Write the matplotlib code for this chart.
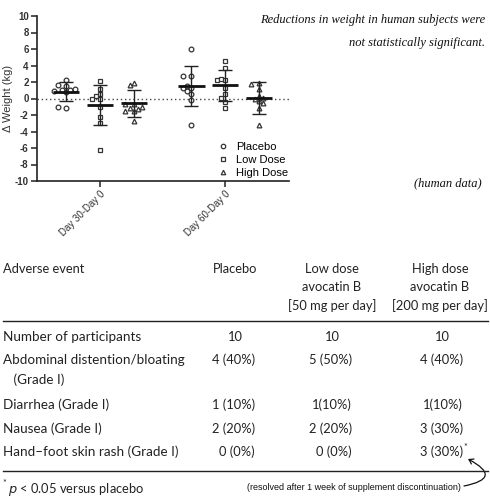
import numpy as np
import matplotlib
matplotlib.use('Agg')
from matplotlib import pyplot as plt
from matplotlib.lines import Line2D
from matplotlib.patches import FancyArrowPatch

plt.rcParams['axes.unicode_minus'] = False

# ---- scatter data (change in weight, kg) ----
periods = ['Day 30-Day 0', 'Day 60-Day 0']
groups = ['Placebo', 'Low Dose', 'High Dose']
markers = ['o', 's', '^']

placebo_30 = [2.3, 1.5, 1.6, 1.0, 1.0, 1.2, 0.9, 0.8, -1.1, -1.0]
low_30 = [2.1, 1.2, 0.5, 0.3, -0.1, 0.0, -1.0, -2.2, -3.0, -6.2]
high_30 = [1.9, 1.6, -0.7, -0.7, -1.2, -1.5, -1.5, -1.3, -2.7, -1.0]
placebo_60 = [6.0, 2.7, 2.7, 1.3, 1.3, 1.5, 0.9, 0.5, -0.2, -3.2]
low_60 = [4.6, 3.7, 2.2, 2.2, 2.4, 1.3, 0.5, 0.1, -0.4, -1.1]
high_60 = [1.9, 1.8, 1.1, 0.3, 0.0, 0.1, -0.3, -0.5, -1.2, -3.2]

# means and SD
means_30 = [0.8, -0.8, -0.6]
sds_30 = [1.15, 2.4, 1.6]
means_60 = [1.5, 1.6, 0.1]
sds_60 = [2.45, 1.85, 1.95]

# ---- table data ----
col_headers = ['Placebo', 'Low dose\navocatin B\n[50 mg per day]', 'High dose\navocatin B\n[200 mg per day]']
row_labels = ['Number of participants', 'Abdominal distention/bloating\n   (Grade I)',
              'Diarrhea (Grade I)', 'Nausea (Grade I)', 'Hand\u2013foot skin rash (Grade I)']
placebo_col = ['10', '4 (40%)', '1 (10%)', '2 (20%)', '0 (0%)']
low_col = ['10', '5 (50%)', '1(10%)', '2 (20%)', '0 (0%)']
high_col = ['10', '4 (40%)', '1(10%)', '3 (30%)', '3 (30%)']

W, H = 490, 500
fig = plt.figure(figsize=(W / 100, H / 100), dpi=100)


def fx(x):
    return x / W


def fy(y):
    return 1 - y / H


ax = fig.add_axes([fx(37), fy(181), fx(289) - fx(37), fy(16) - fy(181)])
ax.set_xlim(0.496, 2.51)
ax.set_ylim(-10, 10)

# pixel size in data units (for a simple beeswarm spread)
dx_px = (2.51 - 0.496) / 252
dy_px = 20 / 165


def swarm(xc, vals, diam=4.4, step=4.2):
    placed = []
    xs = []
    for v in vals:
        for k in [0, -1, 1, -2, 2, -3, 3, -4, 4]:
            x = xc + k * step * dx_px
            ok = True
            for (px, py) in placed:
                if ((x - px) / dx_px) ** 2 + ((v - py) / dy_px) ** 2 < diam ** 2:
                    ok = False
                    break
            if ok:
                break
        placed.append((x, v))
        xs.append(x)
    return xs


offsets = [-0.27, 0.0, 0.27]
data = [[placebo_30, low_30, high_30], [placebo_60, low_60, high_60]]
means = [means_30, means_60]
sds = [sds_30, sds_60]

ax.axhline(0, color='#444444', ls=(0, (1, 2)), lw=1.0, zorder=1)

for i in range(len(periods)):
    for j in range(len(groups)):
        xc = i + 1 + offsets[j]
        vals = data[i][j]
        xs = swarm(xc, vals)
        ax.plot(xs, vals, ls='none', marker=markers[j], ms=3.4, mfc='white',
                mec='#333333', mew=0.9, zorder=3)
        ax.errorbar(xc, means[i][j], yerr=sds[i][j], fmt='none', ecolor='#222222',
                    elinewidth=1.0, capsize=4.8, capthick=1.0, zorder=4)
        ax.hlines(means[i][j], xc - 0.105, xc + 0.105, color='#111111', lw=2.0, zorder=5)

for j in range(len(groups)):
    ax.plot([], [], ls='none', marker=markers[j], ms=3.2, mfc='white', mec='#333333',
            mew=0.9, label=groups[j])
leg = ax.legend(loc='lower left', bbox_to_anchor=(0.68, -0.03), frameon=False,
                prop={'family': 'Liberation Sans', 'size': 8}, handletextpad=0.6,
                labelspacing=0.3, borderpad=0.2, handlelength=1.2)

for s in ['top', 'right']:
    ax.spines[s].set_visible(False)
for s in ['left', 'bottom']:
    ax.spines[s].set_linewidth(1.2)
    ax.spines[s].set_color('#222222')

ax.set_yticks(np.arange(-10, 11, 2))
ax.set_xticks([1, 2])
ax.set_xticklabels(periods, rotation=45, ha='right', rotation_mode='anchor',
                   family='Liberation Sans', fontsize=7, color='#333333')
for t in ax.get_yticklabels():
    t.set_family('Liberation Sans')
    t.set_fontsize(7)
    t.set_fontweight('bold')
    t.set_color('#333333')
ax.tick_params(axis='both', length=4, width=1.1, color='#222222', pad=2)
ax.set_ylabel('\u0394 Weight (kg)', family='Liberation Sans', fontsize=8,
              color='#333333', labelpad=1)

# handwritten-style notes
note_kw = dict(family='Liberation Serif', style='italic', fontsize=9, color='#111111')
fig.text(fx(485), fy(20), 'Reductions in weight in human subjects were', ha='right', va='center', **note_kw)
fig.text(fx(485), fy(43), 'not statistically significant.', ha='right', va='center', **note_kw)
fig.text(fx(482), fy(183), '(human data)', ha='right', va='center', **note_kw)

# ---- table ----
tkw = dict(family='Lato', fontsize=9.3, color='#222222')
fig.text(fx(3), fy(269), 'Adverse event', ha='left', va='center', **tkw)
head_x = [235, 332, 440]
for x, h in zip(head_x, col_headers):
    for k, ln in enumerate(h.split('\n')):
        fig.text(fx(x), fy(269 + 18.3 * k), ln, ha='center', va='center', **tkw)

fig.add_artist(Line2D([fx(3), fx(488)], [fy(321), fy(321)], color='#222222', lw=1.0))
fig.add_artist(Line2D([fx(3), fx(488)], [fy(471), fy(471)], color='#222222', lw=1.0))

row_y = [337, 360, 405, 429, 452]
num_center = [235, 332, 442]
pct_right = [255, 352, 463]
cols = [placebo_col, low_col, high_col]
lab_kw = dict(tkw, fontsize=9.7)
for r, y in enumerate(row_y):
    for k, ln in enumerate(row_labels[r].split('\n')):
        fig.text(fx(3), fy(y + 20 * k), ln, ha='left', va='center', **lab_kw)
    for c in range(3):
        v = cols[c][r]
        if r == 0:
            fig.text(fx(num_center[c]), fy(y), v, ha='center', va='center', **tkw)
        else:
            fig.text(fx(pct_right[c]), fy(y), v, ha='right', va='center', **tkw)

fig.text(fx(463.5), fy(448), '*', ha='left', va='center', family='Lato', fontsize=6.5, color='#222222')
fig.text(fx(2), fy(484), '*', ha='left', va='center', family='Lato', fontsize=6.5, color='#222222')
fig.text(fx(8), fy(489), '$p$ < 0.05 versus placebo', ha='left', va='center', **tkw)

fig.text(fx(247), fy(487), '(resolved after 1 week of supplement discontinuation)', ha='left', va='center',
         family='Liberation Sans', fontsize=6.5, color='#111111')

arrow = FancyArrowPatch((fx(464), fy(486)), (fx(468), fy(459)), transform=fig.transFigure,
                        connectionstyle='arc3,rad=1.4', arrowstyle='->,head_length=3,head_width=2',
                        color='#111111', lw=0.9, shrinkA=0, shrinkB=0)
fig.add_artist(arrow)

fig.savefig('out.png', dpi=100)
